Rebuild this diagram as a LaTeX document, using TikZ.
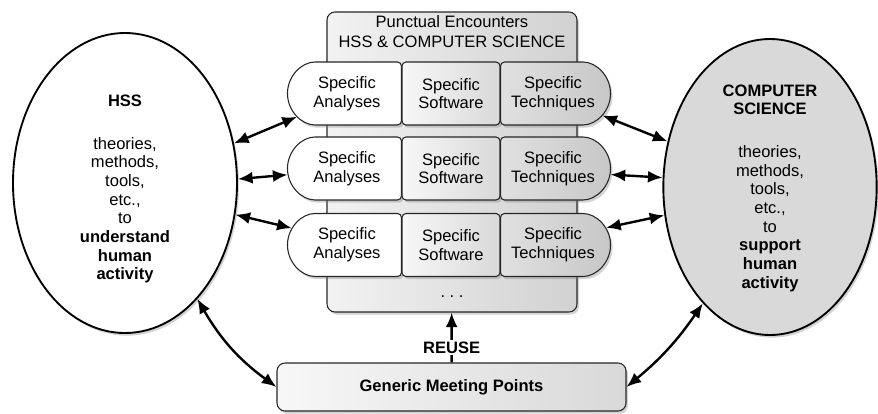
\documentclass[tikz,border=0pt]{standalone}
\usepackage{fontspec}
\setmainfont{Liberation Sans}
\usepackage{tikz}
\usetikzlibrary{arrows.meta,shapes.misc,shapes.geometric,shadows}

\begin{document}
\begin{tikzpicture}[x=0.75pt,y=-0.75pt,
    every node/.style={font=\fontsize{12.4}{14}\selectfont, align=center},
    dropped/.style={drop shadow={opacity=0.35,shadow xshift=1.5pt,shadow yshift=-2pt}},
    cell/.style={draw=black!85, line width=0.8pt, minimum height=47.25pt, inner sep=0pt, dropped},
    link/.style={{Latex[length=11pt,width=9pt]}-{Latex[length=11pt,width=9pt]}, line width=1.8pt},
  ]
  \useasboundingbox (0,0) rectangle (878,414);

  % the two fields
  \node[ellipse, draw, line width=1.4pt, fill=white, minimum width=168pt, minimum height=225pt, dropped] (hss) at (125,183) {};
  \node (hsstext) at (125,189) {\textbf{HSS}\\[18pt]theories,\\methods,\\tools,\\etc.,\\to\\\textbf{understand}\\\textbf{human}\\\textbf{activity}};
  \node[ellipse, draw, line width=1.4pt, fill=black!15, minimum width=160pt, minimum height=222pt, dropped] (cs) at (770,187) {};
  \node (cstext) at (770,188) {\textbf{COMPUTER}\\\textbf{SCIENCE}\\[18pt]theories,\\methods,\\tools,\\etc.,\\to\\\textbf{support}\\\textbf{human}\\\textbf{activity}};

  % punctual encounters
  \node[draw=black!85, line width=0.8pt, rounded corners=6pt, minimum width=187.5pt, minimum height=225pt, left color=black!5, right color=black!18, dropped] (meet) at (452,162) {};
  \node (title) at (452,32) {Punctual Encounters\\[1pt]HSS \& COMPUTER SCIENCE};
  \foreach \r/\y in {1/93.5,2/168.5,3/245} {
    \node[cell, rounded rectangle, rounded rectangle right arc=none, rounded corners=3pt, minimum width=85.5pt, fill=white, anchor=east] (ana\r) at (402,\y) {Specific\\Analyses};
    \node[cell, rectangle, rounded corners=3pt, minimum width=73.5pt, left color=black!3, right color=black!15] (sof\r) at (451,\y) {Specific\\Software};
    \node[cell, rounded rectangle, rounded rectangle left arc=none, rounded corners=3pt, minimum width=82.5pt, left color=black!12, right color=black!22, anchor=west] (tec\r) at (500,\y) {Specific\\Techniques};
  }
  \node (dots) at (452,297) {.~.~.};

  % generic meeting points
  \node[draw=black!85, line width=0.8pt, rounded corners=6pt, minimum width=261.75pt, minimum height=36pt, left color=black!3, right color=black!15, dropped] (generic) at (451.5,387) {\textbf{Generic Meeting Points}};

  \draw[link] (hss.20) -- (ana1.205);
  \draw[link] (hss.2) -- (ana2.186);
  \draw[link] (hss.344) -- (ana3.163);
  \draw[link] (tec1.336) -- (cs.156);
  \draw[link] (tec2.354) -- (cs.175);
  \draw[link] (tec3.18) -- (cs.195);
  \draw[link] (hss.302) to[bend right=12] (generic.west);
  \draw[link] (generic.east) to[bend right=8] (cs.240);
  \draw[-{Latex[length=11pt,width=9pt]}, line width=1.8pt] (generic) -- node[pos=0.3, fill=white, inner sep=1pt] {\textbf{REUSE}} (meet);
\end{tikzpicture}
\end{document}
